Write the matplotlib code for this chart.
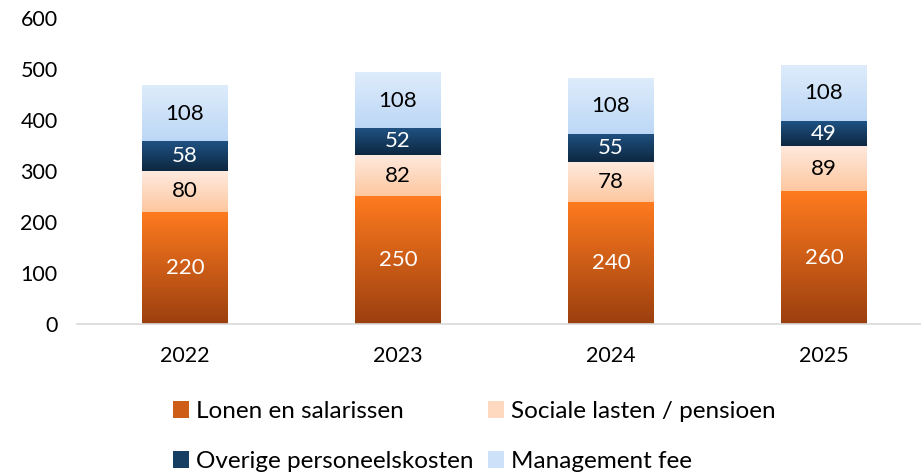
import matplotlib
matplotlib.use("Agg")
import matplotlib.pyplot as plt
import numpy as np
from matplotlib.colors import LinearSegmentedColormap
from matplotlib.patches import Patch

plt.rcParams["font.family"] = ["Lato", "DejaVu Sans"]

years = ["2022", "2023", "2024", "2025"]
lonen = [220, 250, 240, 260]
sociale = [80, 82, 78, 89]
overige = [58, 52, 55, 49]
management = [108, 108, 108, 108]

series = [
    ("Lonen en salarissen", lonen, ("#ff7b1f", "#9b3f0f"), "white"),
    ("Sociale lasten / pensioen", sociale, ("#ffeadf", "#fdc79f"), "black"),
    ("Overige personeelskosten", overige, ("#1f5283", "#0d2740"), "white"),
    ("Management fee", management, ("#deecfb", "#bcd7f6"), "black"),
]

fig = plt.figure(figsize=(9.21, 4.75), dpi=100)
ax = fig.add_axes([77 / 921, 1 - 324 / 475, 1 - 77 / 921, (324 - 18) / 475])

x = np.arange(len(years))
width = 0.4
bottom = np.zeros(len(years))
grad = np.linspace(0, 1, 256).reshape(-1, 1)

for name, vals, (top_c, bot_c), txt_c in series:
    cmap = LinearSegmentedColormap.from_list(name, [top_c, bot_c])
    for i, v in enumerate(vals):
        b = bottom[i]
        # row 0 (top colour) at the top of the segment
        ax.imshow(grad, cmap=cmap, aspect="auto", interpolation="bicubic",
                  extent=(x[i] - width / 2, x[i] + width / 2, b, b + v),
                  origin="upper", zorder=2)
        ax.text(x[i], b + v / 2, str(v), ha="center", va="center",
                fontsize=16, color=txt_c, zorder=3)
    bottom += np.array(vals)

ax.set_xlim(-0.507, 3.455)
ax.set_ylim(0, 600)
ax.set_yticks(range(0, 601, 100))
ax.set_xticks(x)
ax.set_xticklabels(years)
ax.tick_params(length=0, labelsize=15.5, colors="#000000")
ax.tick_params(axis="y", pad=14)
ax.tick_params(axis="x", pad=16)
for s in ["top", "right", "left"]:
    ax.spines[s].set_visible(False)
ax.spines["bottom"].set_color("#d9d9d9")
ax.spines["bottom"].set_linewidth(1.2)

# legend fills column-major, so reorder to read row by row
order = [0, 2, 1, 3]
handles = [Patch(facecolor=np.mean([matplotlib.colors.to_rgb(c) for c in series[k][2]], axis=0))
           for k in order]
labels = [series[k][0] for k in order]
fig.legend(handles, labels, ncol=2, loc="lower center", bbox_to_anchor=(0.515, -0.04),
           frameon=False, fontsize=17.5, handlelength=0.65, handleheight=0.65,
           handletextpad=0.3, columnspacing=0.6, labelspacing=1.2)

fig.savefig("out.png", dpi=100)
